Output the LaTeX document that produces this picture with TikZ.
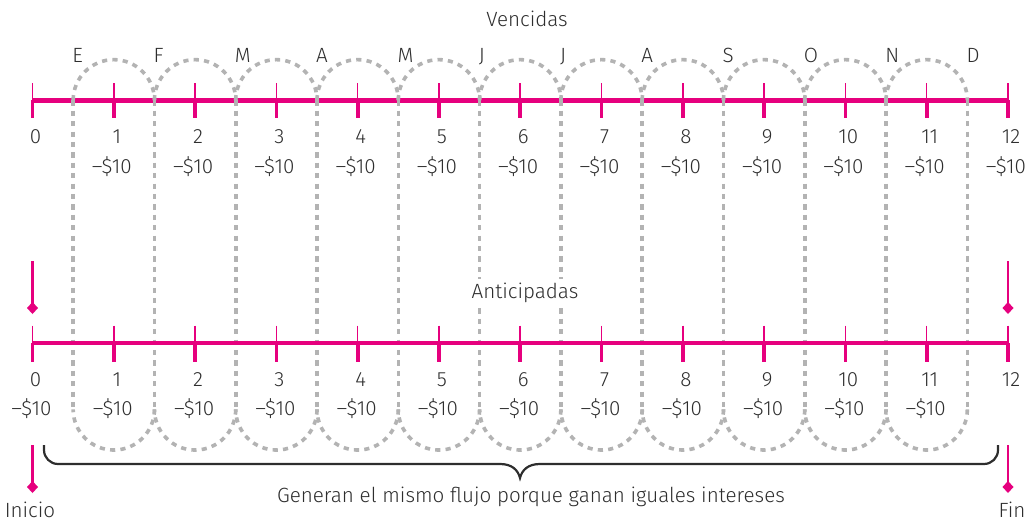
\documentclass[tikz,border=0pt]{standalone}
\usepackage{fontspec}
\setmainfont{Fira Sans}[UprightFont=* Light]
\usetikzlibrary{arrows.meta}
\definecolor{mag}{HTML}{E6007E}
\definecolor{txt}{HTML}{2E2E2E}
\definecolor{loopgray}{HTML}{B3B3B3}
\begin{document}
\begin{tikzpicture}[x=1pt,y=1pt,
 lbl/.style={text=txt, font=\fontsize{20.6}{24}\selectfont, inner sep=0pt},
 axis/.style={mag, line width=4.3pt},
 thintick/.style={mag, line width=1.5pt},
 thicktick/.style={mag, line width=3.7pt},
 loopbox/.style={loopgray, line width=3.6pt, dash pattern=on 5.2pt off 5.2pt},
 marker/.style={mag, line width=2.5pt, -{Diamond[length=12pt,width=11pt]}},
 bracepath/.style={txt, line width=2.2pt}]
\useasboundingbox (0,0) rectangle (1026,-522);
% top axis
\coordinate (t0) at (32.5,-100.5);
\coordinate (t12) at (1008,-100.5);
\draw[axis] (t0) -- (t12);
\foreach \k in {0,...,12}{
  \pgfmathsetmacro\xx{32.5+81.29*\k}
  \draw[thintick] (\xx,-83) -- (\xx,-100);
  \draw[thicktick] (\xx,-100) -- (\xx,-118);
}
% loops: arcs per loop, shared vertical edges drawn once
\foreach \k in {1,...,11}{
  \pgfmathsetmacro\xl{32.5+81.29*(\k-0.5)}
  \pgfmathsetmacro\xr{32.5+81.29*(\k+0.5)}
  \draw[loopbox] (\xl,-100.3) arc[start angle=180,end angle=0,radius=40.645];
  \draw[loopbox] (\xr,-409.4) arc[start angle=0,end angle=-180,radius=40.645];
}
\foreach \k in {0,...,11}{
  \pgfmathsetmacro\xv{32.5+81.29*(\k+0.5)}
  \draw[loopbox] (\xv,-100.3) -- (\xv,-409.4);
}
% bottom axis
\coordinate (b0) at (32.5,-343);
\coordinate (b12) at (1008,-343);
\draw[axis] (b0) -- (b12);
\foreach \k in {0,...,12}{
  \pgfmathsetmacro\xx{32.5+81.29*\k}
  \draw[thintick] (\xx,-325.5) -- (\xx,-343);
  \draw[thicktick] (\xx,-343) -- (\xx,-361.5);
}
% labels
\node[lbl, anchor=base] (venc) at (527,-26) {Vencidas};
\node[lbl, anchor=base, fill=white, inner sep=3pt] (antic) at (525,-298) {Anticipadas};
\foreach \m [count=\k] in {E,F,M,A,M,J,J,A,S,O,N,D}{
  \pgfmathsetmacro\xx{32.5+81.29*(\k-0.5)-1}
  \node[lbl, anchor=base west] (mo\k) at (\xx,-62) {\m};
}
\foreach \k in {0,...,12}{
  \pgfmathsetmacro\xx{32.5+81.29*\k}
  \node[lbl, anchor=base] (tn\k) at (\xx+3,-143) {\k};
  \node[lbl, anchor=base] (bn\k) at (\xx+3,-386) {\k};
}
\foreach \k in {1,...,12}{
  \pgfmathsetmacro\xx{32.5+81.29*\k}
  \node[lbl, anchor=base] (tv\k) at (\xx-2,-173) {–\$10};
}
\foreach \k in {0,...,11}{
  \pgfmathsetmacro\xx{32.5+81.29*\k}
  \node[lbl, anchor=base] (bv\k) at (\xx-1,-415) {–\$10};
}
% markers
\coordinate (ms1) at (32.5,-261);
\coordinate (me1) at (32.5,-314);
\coordinate (ms2) at (1008,-261);
\coordinate (me2) at (1008,-314);
\coordinate (ms3) at (32.5,-445);
\coordinate (me3) at (32.5,-493);
\coordinate (ms4) at (1008,-445);
\coordinate (me4) at (1008,-493);
\draw[marker] (ms1) -- (me1);
\draw[marker] (ms2) -- (me2);
\draw[marker] (ms3) -- (me3);
\draw[marker] (ms4) -- (me4);
\node[lbl, anchor=base] (inicio) at (30,-517) {Inicio};
\node[lbl, anchor=base] (fin) at (1012,-517) {Fin};
% brace
\coordinate (bl) at (44,-445);
\coordinate (br) at (998,-445);
\draw[bracepath] (bl) -- (44,-450) arc[start angle=180,end angle=270,radius=14]
  -- (500,-464) .. controls (512,-464) and (518,-470) .. (520,-478)
  .. controls (522,-470) and (528,-464) .. (540,-464)
  -- (984,-464) arc[start angle=270,end angle=360,radius=14] -- (br);
\node[lbl, anchor=base] (gen) at (531,-502) {Generan el mismo flujo porque ganan iguales intereses};
\end{tikzpicture}
\end{document}
